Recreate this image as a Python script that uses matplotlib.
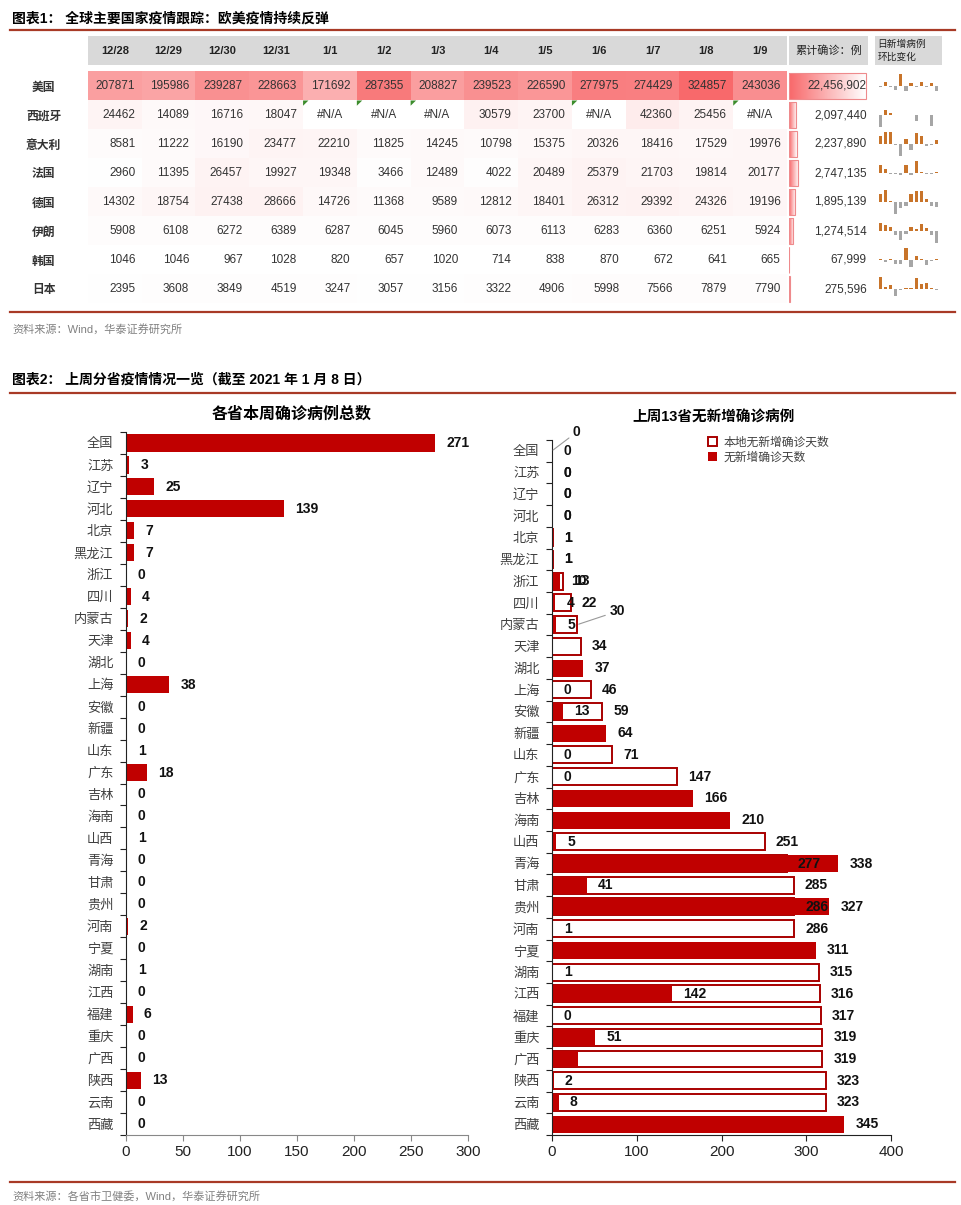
import numpy as np
import matplotlib
matplotlib.use('Agg')
import matplotlib.pyplot as plt
from matplotlib.colors import LinearSegmentedColormap
from matplotlib.patches import Patch, Polygon
from matplotlib.lines import Line2D
from matplotlib.transforms import blended_transform_factory

plt.rcParams['font.family'] = ['Liberation Sans', 'Noto Sans CJK SC']

nan = np.nan

# ---------------- 图表1 数据 ----------------
dates = ['12/28', '12/29', '12/30', '12/31', '1/1', '1/2', '1/3',
         '1/4', '1/5', '1/6', '1/7', '1/8', '1/9']
countries = ['美国', '西班牙', '意大利', '法国', '德国', '伊朗', '韩国', '日本']

new_us = [207871, 195986, 239287, 228663, 171692, 287355, 208827, 239523, 226590, 277975, 274429, 324857, 243036]
new_es = [24462, 14089, 16716, 18047, nan, nan, nan, 30579, 23700, nan, 42360, 25456, nan]
new_it = [8581, 11222, 16190, 23477, 22210, 11825, 14245, 10798, 15375, 20326, 18416, 17529, 19976]
new_fr = [2960, 11395, 26457, 19927, 19348, 3466, 12489, 4022, 20489, 25379, 21703, 19814, 20177]
new_de = [14302, 18754, 27438, 28666, 14726, 11368, 9589, 12812, 18401, 26312, 29392, 24326, 19196]
new_ir = [5908, 6108, 6272, 6389, 6287, 6045, 5960, 6073, 6113, 6283, 6360, 6251, 5924]
new_kr = [1046, 1046, 967, 1028, 820, 657, 1020, 714, 838, 870, 672, 641, 665]
new_jp = [2395, 3608, 3849, 4519, 3247, 3057, 3156, 3322, 4906, 5998, 7566, 7879, 7790]

cum_total = [22456902, 2097440, 2237890, 2747135, 1895139, 1274514, 67999, 275596]

# 日新增病例环比变化（%），迷你柱状图
chg_us = [-5.7, 22.1, -4.4, -24.9, 67.4, -27.3, 14.7, -5.4, 22.7, -1.3, 18.4, -25.2]
chg_es = [-42.4, 18.6, 8.0, nan, nan, nan, nan, -22.5, nan, nan, -39.9, nan]
chg_it = [30.8, 44.3, 45.0, -5.4, -46.8, 20.5, -24.2, 42.4, 32.2, -9.4, -4.8, 14.0]
chg_fr = [285.0, 132.2, -24.7, -2.9, -82.1, 260.3, -67.8, 409.4, 23.9, -14.5, -8.7, 1.8]
chg_de = [31.1, 46.3, 4.5, -48.6, -22.8, -15.6, 33.6, 43.6, 43.0, 11.7, -17.2, -21.1]
chg_ir = [3.4, 2.7, 1.9, -1.6, -3.8, -1.4, 1.9, 0.7, 2.8, 1.2, -1.7, -5.2]
chg_kr = [0.0, -7.6, 6.3, -20.2, -19.9, 55.3, -30.0, 17.4, 3.8, -22.8, -4.6, 3.7]
chg_jp = [50.6, 6.7, 17.4, -28.1, -5.9, 3.2, 5.3, 47.7, 22.3, 26.1, 4.1, -1.1]

# ---------------- 图表2 数据 ----------------
provinces = ['全国', '江苏', '辽宁', '河北', '北京', '黑龙江', '浙江', '四川', '内蒙古', '天津',
             '湖北', '上海', '安徽', '新疆', '山东', '广东', '吉林', '海南', '山西', '青海',
             '甘肃', '贵州', '河南', '宁夏', '湖南', '江西', '福建', '重庆', '广西', '陕西',
             '云南', '西藏']
week_cases = [271, 3, 25, 139, 7, 7, 0, 4, 2, 4, 0, 38, 0, 0, 1, 18, 0, 0, 1, 0, 0, 0,
              2, 0, 1, 0, 6, 0, 0, 13, 0, 0]
# 本地无新增确诊天数（空心）
local_days = [0, 0, 0, 0, 1, 1, 13, 22, 30, 34, nan, 46, 59, nan, 71, 147, nan, nan, 251, 277,
              285, 286, 286, nan, 315, 316, 317, 319, 319, 323, 323, nan]
# 无新增确诊天数（实心）
none_days = [0, 0, 0, 0, 1, 1, 10, 4, 5, nan, 37, 0, 13, 64, 0, 0, 166, 210, 5, 338,
             41, 327, 1, 311, 1, 142, 0, 51, 31, 2, 8, 345]

W, H, DPI = 962, 1205, 100
RULE = '#A83A26'
HEAD_GRAY = '#D9D9D9'
DARK_RED = '#C00000'

fig = plt.figure(figsize=(W / DPI, H / DPI), dpi=DPI)


def px_axes(x0, y0, x1, y1):
    return fig.add_axes([x0 / W, 1 - y1 / H, (x1 - x0) / W, (y1 - y0) / H])


def ftext(x, y, s, **kw):
    fig.text(x / W, 1 - y / H, s, **kw)


def hrule(y, x0=10, x1=955):
    fig.add_artist(Line2D([x0 / W, x1 / W], [1 - y / H, 1 - y / H], color=RULE, lw=1.6))


def clean(ax):
    ax.set_xticks([])
    ax.set_yticks([])
    for s in ax.spines.values():
        s.set_visible(False)


# ---------------- 图表1：表格 ----------------
ftext(12, 19, '图表1： 全球主要国家疫情跟踪：欧美疫情持续反弹', ha='left', va='center',
      fontsize=10, fontweight='bold')
hrule(30)

daily = np.array([new_us, new_es, new_it, new_fr, new_de, new_ir, new_kr, new_jp], dtype=float)
nrow, ncol = daily.shape
ROW0, ROWH, T_TOP, T_BOT = 86, 29, 36, 304
ytop = (T_TOP - ROW0) / ROWH
ybot = (T_BOT - ROW0) / ROWH
yhead = -0.72
yhead_mid = (ytop + yhead) / 2

ax = px_axes(88, T_TOP, 787, T_BOT)
heat = LinearSegmentedColormap.from_list('heat', ['#FFFFFF', '#F8696B'])
heat.set_bad('white')
ax.imshow(np.ma.masked_invalid(daily), cmap=heat, vmin=np.nanmin(daily), vmax=np.nanmax(daily),
          extent=(-0.5, ncol - 0.5, nrow - 0.5, -0.5), aspect='auto', interpolation='nearest')
ax.axhspan(ytop, yhead, color=HEAD_GRAY, lw=0)
for j, d in enumerate(dates):
    ax.text(j, yhead_mid, d, ha='center', va='center', fontsize=8, fontweight='bold', color='#222222')
for i in range(nrow):
    for j in range(ncol):
        v = daily[i, j]
        if np.isnan(v):
            ax.text(j, i, '#N/A', ha='center', va='center', fontsize=8.5, color='#333333')
            ax.add_patch(Polygon([(j - 0.5, i - 0.5), (j - 0.4, i - 0.5), (j - 0.5, i - 0.32)],
                                 closed=True, color='#3C8C2C', lw=0))
        else:
            ax.text(j + 0.38, i, f'{int(v)}', ha='right', va='center', fontsize=8.5, color='#333333')
clean(ax)
ax.set_xlim(-0.5, ncol - 0.5)
ax.set_ylim(ybot, ytop)
ax.set_yticks(range(nrow), countries)
ax.tick_params(axis='y', length=0, pad=32, labelsize=8.5, labelcolor='#333333')
for lab in ax.get_yticklabels():
    lab.set_horizontalalignment('center')
    lab.set_fontweight('bold')

# 累计确诊（数据条）
axc = px_axes(789, T_TOP, 868, T_BOT)
axc.axhspan(ytop, yhead, color=HEAD_GRAY, lw=0)
axc.text(0.5, yhead_mid, '累计确诊：例', transform=blended_transform_factory(axc.transAxes, axc.transData),
         ha='center', va='center', fontsize=8, color='#222222')
bars = axc.barh(range(nrow), cum_total, height=0.88, facecolor='none', edgecolor='#EE8A8C', lw=0.8, zorder=3)
grad = LinearSegmentedColormap.from_list('grad', ['#F8696B', '#FFFFFF'])
for b in bars:
    x0, y0 = b.get_x(), b.get_y()
    im = axc.imshow(np.linspace(0, 1, 64).reshape(1, -1), cmap=grad, aspect='auto', zorder=2,
                    extent=(x0, x0 + b.get_width(), y0 + b.get_height(), y0))
    im.set_clip_path(b)
tr = blended_transform_factory(axc.transAxes, axc.transData)
for i, v in enumerate(cum_total):
    axc.text(0.985, i, f'{v:,}', transform=tr, ha='right', va='center', fontsize=8.5,
             color='#333333', zorder=4)
clean(axc)
axc.set_xlim(0, max(cum_total) * 1.03)
axc.set_ylim(ybot, ytop)

# 日新增病例环比变化（迷你柱图）
axs = px_axes(875, T_TOP, 942, T_BOT)
axs.axhspan(ytop, yhead, color=HEAD_GRAY, lw=0)
axs.text(0.04, yhead_mid, '日新增病例\n环比变化', transform=blended_transform_factory(axs.transAxes, axs.transData),
         ha='left', va='center', fontsize=7, color='#222222', linespacing=1.4)
changes = [chg_us, chg_es, chg_it, chg_fr, chg_de, chg_ir, chg_kr, chg_jp]
for i, ch in enumerate(changes):
    c = np.array(ch, dtype=float)
    ok = ~np.isnan(c)
    h = c[ok] * 0.42 / np.nanmax(np.abs(c))
    h = np.where(np.abs(h) < 0.04, np.where(h >= 0, 0.04, -0.04), h)
    cols = np.where(c[ok] >= 0, '#C8742A', '#A6A6A6')
    axs.bar(np.arange(len(c))[ok], -h, bottom=i, width=0.62, color=cols, lw=0)
clean(axs)
axs.set_xlim(-1, 12)
axs.set_ylim(ybot, ytop)

hrule(312)
ftext(12, 329, '资料来源：Wind，华泰证券研究所', ha='left', va='center', fontsize=8, color='#808080')

# ---------------- 图表2：分省 ----------------
ftext(12, 380, '图表2： 上周分省疫情情况一览（截至 2021 年 1 月 8 日）', ha='left', va='center',
      fontsize=10, fontweight='bold')
hrule(393)

n = len(provinces)
yy = np.arange(n)


def style_cat(ax, xticks, bottom_color):
    ax.set_yticks(yy, provinces)
    ax.set_yticks(np.arange(-0.5, n), minor=True)
    ax.tick_params(axis='y', which='major', length=0, pad=9, labelsize=9.5, labelcolor='#404040')
    ax.tick_params(axis='y', which='minor', length=4, width=0.8, direction='out', color='#222222')
    ax.set_xticks(xticks)
    ax.tick_params(axis='x', length=4, width=0.8, color=bottom_color, labelsize=11, pad=3,
                   labelcolor='#222222')
    for s in ('top', 'right'):
        ax.spines[s].set_visible(False)
    ax.spines['bottom'].set_color(bottom_color)
    ax.spines['left'].set_color('#222222')
    ax.set_ylim(n - 0.5, -0.5)


lbl = dict(textcoords='offset points', ha='left', va='center', fontsize=10, fontweight='bold',
           color='#111111')

axl = px_axes(126, 432, 468, 1135)
axl.barh(yy, week_cases, height=0.78, color=DARK_RED)
for yi, v in zip(yy, week_cases):
    axl.annotate(f'{v}', (v, yi), xytext=(8, 0), **lbl)
axl.set_xlim(0, 300)
style_cat(axl, range(0, 301, 50), '#888888')
ftext(292, 414, '各省本周确诊病例总数', ha='center', va='center', fontsize=11.5, fontweight='bold')

axr = px_axes(552, 440, 891, 1135)
loc = np.array(local_days, dtype=float)
tot = np.array(none_days, dtype=float)
m1 = np.nan_to_num(loc) > 0
axr.barh(yy[m1], loc[m1], height=0.78, facecolor='white', edgecolor='#A80000', lw=1.4)
m2 = ~np.isnan(tot)
axr.barh(yy[m2], tot[m2], height=0.78, color=DARK_RED)

moved = {'全国': (15, 13.5), '内蒙古': (23, 9.5)}
hidden = {'广西'}
for yi, name in enumerate(provinces):
    a, b = loc[yi], tot[yi]
    if not np.isnan(a):
        if name in moved:
            axr.annotate(f'{int(a)}', (a, yi), xytext=moved[name],
                         arrowprops=dict(arrowstyle='-', color='#999999', lw=0.8, shrinkA=1, shrinkB=1),
                         **lbl)
        else:
            axr.annotate(f'{int(a)}', (a, yi), xytext=(8, 0), **lbl)
    if not np.isnan(b) and name not in hidden:
        axr.annotate(f'{int(b)}', (b, yi), xytext=(8, 0), **lbl)
axr.set_xlim(0, 400)
style_cat(axr, range(0, 401, 100), '#222222')
axr.legend([Patch(facecolor='white', edgecolor='#A80000', lw=1.4), Patch(facecolor=DARK_RED)],
           ['本地无新增确诊天数', '无新增确诊天数'], loc='upper left', bbox_to_anchor=(0.46, 1.005),
           frameon=False, fontsize=8.5, handlelength=0.8, handleheight=0.8, handletextpad=0.5,
           labelspacing=0.3, borderaxespad=0, borderpad=0, labelcolor='#404040')
ftext(714, 418, '上周13省无新增确诊病例', ha='center', va='center', fontsize=10.5, fontweight='bold')

hrule(1182)
ftext(12, 1197, '资料来源：各省市卫健委，Wind，华泰证券研究所', ha='left', va='center', fontsize=8,
      color='#808080')

fig.savefig('out.png', dpi=DPI, facecolor='white')
